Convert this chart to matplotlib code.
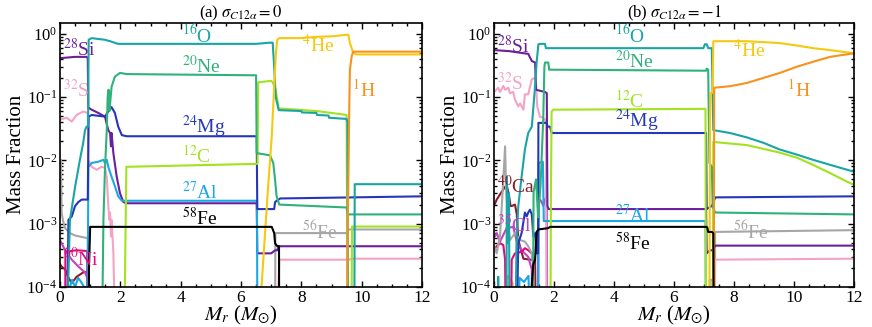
import matplotlib
matplotlib.use("Agg")
import matplotlib.pyplot as plt
from matplotlib.ticker import MultipleLocator, LogLocator, NullFormatter

plt.rcParams['font.family'] = ['Liberation Serif', 'DejaVu Serif']
plt.rcParams['mathtext.fontset'] = 'stix'

# colours per species
C_O16 = '#19a5a5'
C_NE20 = '#2eb27a'
C_C12 = '#a2e21f'
C_MG24 = '#2537b8'
C_AL27 = '#1ba8e6'
C_SI28 = '#6b1f9b'
C_S32 = '#f4a3c4'
C_HE4 = '#f5c90f'
C_H1 = '#f7921d'
C_FE58 = 'black'
C_FE56 = '#a6a6a6'
C_NI60 = '#e5077f'
C_CA40 = '#8c1c2c'
C_CL35 = '#c043c0'
C_AR36 = '#dcae7a'

LOW = 1e-6  # below the plotted range

# ---------------- panel (a): sigma = 0 ----------------
a_ca40_x = [0.0, 0.05, 0.17, 0.28, 0.39, 0.55, 0.77, 0.92, 0.94]
a_ca40_y = [2.3e-4, 2.1e-4, 1.9e-4, 1.4e-4, 1.15e-4, 1.45e-4, 1.7e-4, 1.75e-4, LOW]

a_cl35_x = [0.0, 0.17, 0.39, 0.61, 0.83, 0.93, 0.94]
a_cl35_y = [5.5e-4, 3.8e-4, 2.7e-4, 2.1e-4, 1.7e-4, 1.3e-4, LOW]

a_ni60_x = [0.16, 0.18, 0.55, 0.90, 0.92]
a_ni60_y = [LOW, 3.6e-4, 3.8e-4, 3.7e-4, LOW]

a_fe56_x = [0.0, 0.03, 0.055, 0.10, 0.17, 0.33, 0.50, 0.77, 0.92, 0.94, 7.12, 7.14, 7.25, 9.50, 9.55, 12.0]
a_fe56_y = [1.3e-3, 0.0102, 1.5e-3, 1.1e-3, 8.5e-4, 7.1e-4, 6.5e-4, 6.1e-4, 5.9e-4, LOW, LOW, 7.1e-4, 7.1e-4, 7.1e-4, 8.1e-4, 8.1e-4]

a_s32_x = [0.0, 0.22, 0.39, 0.55, 0.77, 0.92, 0.94, 1.05, 1.22, 1.38, 1.49, 1.55, 1.60, 1.64, 1.66, 1.69,
           1.71, 1.77, 1.88, 7.10, 7.27, 9.60, 9.65, 12.0]
a_s32_y = [0.044, 0.047, 0.041, 0.052, 0.059, 0.056, 0.0102, 0.0079, 0.0071, 0.0079, 0.0076, 0.0055, 0.0019,
           0.00115, 0.0015, 0.00063, 0.00115, 0.00034, LOW, LOW, 2.7e-4, 2.7e-4, 2.8e-4, 2.8e-4]

a_si28_x = [0.0, 0.50, 0.88, 0.92, 0.94, 1.05, 1.27, 1.49, 1.60, 1.66, 1.69, 1.71, 1.73, 1.77, 1.88, 1.99,
            2.10, 2.21, 6.52, 6.54, 7.00, 7.13, 7.20, 7.25, 12.0]
a_si28_y = [0.41, 0.43, 0.43, 0.41, 0.068, 0.063, 0.056, 0.049, 0.030, 0.027, 0.0166, 0.027, 0.021, 0.0129,
            0.0055, 0.003, 0.0022, 0.0021, 0.0021, 3.4e-4, 3.4e-4, 3.8e-4, 3.8e-4, 4.4e-4, 4.4e-4]

a_al27_x = [0.28, 0.33, 0.40, 0.50, 0.60, 0.70, 0.80, 0.92, 0.94, 1.05, 1.27, 1.44, 1.49, 1.55, 1.60, 1.71,
            1.82, 1.93, 2.05, 2.21, 6.53, 6.55]
a_al27_y = [LOW, 1.0e-4, 1.3e-4, 1.0e-4, 1.4e-4, 1.2e-4, 1.0e-4, 1.0e-4, 0.0079, 0.0091, 0.0095, 0.0102,
            0.0091, 0.0102, 0.0079, 0.0055, 0.0039, 0.0027, 0.0023, 0.0023, 0.0023, LOW]

a_mg24_x = [0.20, 0.28, 0.39, 0.50, 0.61, 0.72, 0.92, 0.95, 1.05, 1.49, 1.60, 1.71, 1.82, 1.93, 2.05, 2.21,
            6.52, 6.54, 7.10, 7.13, 7.30, 12.0]
a_mg24_y = [LOW, 1.15e-3, 1.3e-3, 1.9e-3, 2.2e-3, 2.4e-3, 2.4e-3, 0.049, 0.052, 0.049, 0.059, 0.069, 0.056,
            0.034, 0.025, 0.024, 0.024, 0.0017, 0.0017, 0.0022, 0.0025, 0.0027]

a_c12_x = [2.12, 2.15, 2.20, 6.55, 6.57, 7.00, 7.05, 7.15, 7.25, 8.50, 9.00, 9.50, 9.55, 9.65, 9.68, 12.0]
a_c12_y = [LOW, 1e-4, 0.0079, 0.0088, 0.17, 0.18, 0.17, 0.13, 0.066, 0.060, 0.056, 0.052, LOW, LOW, 9e-4, 9e-4]

a_ne20_x = [1.36, 1.44, 1.49, 1.55, 1.58, 1.61, 1.64, 1.68, 1.71, 1.82, 1.99, 2.21, 6.50, 6.52, 6.96, 7.07,
            7.13, 7.18, 7.27, 9.50, 9.55, 12.0]
a_ne20_y = [LOW, 1.15e-3, 7.1e-3, 0.030, 0.10, 0.13, 0.06, 0.10, 0.145, 0.21, 0.24, 0.23, 0.22, 0.013,
            0.012, 0.0091, 0.0049, 0.0027, 0.0020, 0.0018, 0.0014, 0.0014]

a_o16_x = [0.15, 0.33, 0.50, 0.66, 0.77, 0.83, 0.88, 0.93, 0.95, 1.05, 1.49, 1.66, 1.92, 2.21, 6.50, 6.95,
           7.05, 7.10, 7.15, 7.25, 8.00, 8.02, 8.50, 8.52, 8.90, 8.92, 9.50, 9.53, 9.55, 9.75, 9.77, 12.0]
a_o16_y = [LOW, 1.15e-3, 3.8e-3, 0.0102, 0.019, 0.030, 0.034, 0.034, 0.80, 0.85, 0.80, 0.76, 0.69, 0.69,
           0.69, 0.72, 0.72, 0.30, 0.10, 0.062, 0.060, 0.057, 0.056, 0.052, 0.051, 0.047, 0.045, 0.040,
           LOW, LOW, 0.0042, 0.0042]

a_he4_x = [6.65, 6.68, 6.79, 6.90, 7.02, 7.10, 7.13, 7.16, 7.20, 7.27, 7.96, 8.51, 9.06, 9.50, 9.56, 9.61,
           9.72, 9.83, 12.0]
a_he4_y = [LOW, 1e-4, 6.3e-4, 3.9e-3, 0.024, 0.148, 0.27, 0.50, 0.80, 0.85, 0.85, 0.89, 0.91, 0.96, 0.96,
           0.71, 0.50, 0.47, 0.47]

a_h1_x = [9.49, 9.54, 9.57, 9.59, 9.61, 9.67, 9.72, 12.0]
a_h1_y = [LOW, 1.15e-3, 0.0129, 0.079, 0.27, 0.44, 0.52, 0.52]

a_fe58_x = [0.95, 0.96, 1.00, 7.02, 7.10, 7.13, 7.18, 7.24, 7.26, 7.27]
a_fe58_y = [LOW, 1.9e-4, 8.9e-4, 8.9e-4, 7.1e-4, 4.9e-4, 4.5e-4, 4.4e-4, 4.4e-4, LOW]

# ---------------- panel (b): sigma = -1 ----------------
b_ar36_x = [0.40, 0.45, 0.55, 0.62, 0.68]
b_ar36_y = [LOW, 1.5e-4, 1.3e-4, 1.15e-4, LOW]

b_ca40_x = [0.0, 0.09, 0.26, 0.42, 0.50, 0.55, 0.59, 0.70, 0.76, 0.81, 0.98, 1.20, 1.37, 1.42]
b_ca40_y = [0.0019, 0.0024, 0.0032, 0.0041, 0.0028, 0.0019, 0.0019, 0.0020, 0.0014, 5.5e-4, 2.8e-4,
            2.7e-4, 2.7e-4, LOW]

b_cl35_x = [0.0, 0.09, 0.20, 0.42, 0.64, 0.76, 0.92, 1.14, 1.26, 1.30, 1.45, 1.48, 1.53, 1.59, 1.64, 1.70,
            1.76, 1.78]
b_cl35_y = [6e-4, 7.1e-4, 5.2e-4, 8.5e-4, 8.9e-4, 5.2e-4, 3.8e-4, 3.0e-4, 1.9e-4, LOW, LOW, 0.0024, 0.0024,
            0.0022, 0.0019, 0.0024, 0.0027, LOW]

b_ni60_x = [0.0, 0.09, 0.20, 0.31, 0.37, 0.42, 0.53, 0.59, 0.70, 0.92, 1.03, 1.14, 1.26, 1.31, 1.35]
b_ni60_y = [4.0e-4, 4.4e-4, 4.9e-4, 4.6e-4, 2.7e-4, LOW, LOW, 2.7e-4, 3.4e-4, 3.6e-4, 4.1e-4, 3.8e-4,
            3.4e-4, 2.3e-4, LOW]

b_fe56_x = [0.0, 0.09, 0.20, 0.31, 0.37, 0.40, 0.48, 0.53, 0.70, 0.87, 1.03, 1.14, 1.26, 1.31, 1.35, 7.17,
            7.19, 7.28, 7.30, 7.36, 7.37, 12.0]
b_fe56_y = [4.4e-4, 3.4e-4, 6.3e-4, 0.0049, 0.0166, 0.0039, 8.9e-4, 5.5e-4, 7.1e-4, 5.5e-4, 5.2e-4,
            4.4e-4, 3.4e-4, 2.1e-4, LOW, LOW, 1.3e-4, 1.3e-4, LOW, LOW, 7.4e-4, 7.9e-4]

b_s32_x = [0.0, 0.14, 0.20, 0.31, 0.37, 0.48, 0.53, 0.64, 0.70, 0.81, 0.87, 0.98, 1.03, 1.14, 1.26, 1.37,
           1.40, 1.44, 1.53, 1.64, 1.70, 1.73, 1.76, 7.33, 7.37, 12.0]
b_s32_y = [0.12, 0.14, 0.12, 0.15, 0.13, 0.14, 0.115, 0.12, 0.091, 0.071, 0.079, 0.063, 0.11, 0.11, 0.19,
           0.20, 0.17, 0.071, 0.049, 0.047, 0.044, 0.039, LOW, LOW, 2.7e-4, 2.8e-4]

b_si28_x = [0.0, 0.50, 1.00, 1.14, 1.26, 1.37, 1.40, 1.70, 1.76, 1.78, 1.82, 7.07, 7.09, 7.20, 7.29, 7.37,
            12.0]
b_si28_y = [0.55, 0.53, 0.49, 0.48, 0.37, 0.35, 0.13, 0.12, 0.115, 0.0019, 0.0017, 0.0017, 3.4e-4, 3.8e-4,
            3.8e-4, 4.5e-4, 4.5e-4]

b_al27_x = [0.78, 0.85, 1.00, 1.15, 1.26, 1.47, 1.49, 1.63, 1.66, 1.85, 7.05, 7.07]
b_al27_y = [LOW, 1.4e-4, 1.2e-4, 1.5e-4, LOW, LOW, 0.0091, 0.0095, 0.0011, 0.0011, 0.0011, LOW]

b_mg24_x = [0.70, 0.81, 0.92, 1.03, 1.09, 1.14, 1.20, 1.26, 1.31, 1.37, 1.42, 1.47, 1.48, 1.76, 1.78, 1.87,
            1.92, 7.07, 7.09, 7.26, 7.31, 7.37, 12.0]
b_mg24_y = [LOW, 4.9e-4, 7.1e-4, 1.5e-3, 1.3e-3, 1.5e-3, 1.66e-3, 1.4e-3, 6.3e-4, 7.1e-4, 3.4e-4, 3.4e-4,
            0.039, 0.039, 0.034, 0.034, 0.027, 0.027, 0.0017, 0.0019, 0.0021, 0.0026, 0.0027]

b_c12_x = [1.87, 1.90, 1.92, 1.98, 7.05, 7.07, 7.29, 7.31, 8.43, 9.53, 10.1, 10.63, 11.2, 11.77, 12.0]
b_c12_y = [LOW, 0.0039, 0.059, 0.063, 0.065, LOW, LOW, 0.0195, 0.0174, 0.0132, 0.011, 0.0085, 0.0063,
           0.0046, 0.0041]

b_ne20_x = [1.28, 1.32, 1.40, 1.47, 1.55, 1.64, 1.68, 1.70, 1.81, 1.84, 7.07, 7.09, 7.14, 7.18, 7.26, 7.29,
            7.37, 12.0]
b_ne20_y = [LOW, 0.0032, 0.005, 0.00126, 0.0039, 0.044, 0.30, 0.35, 0.35, 0.27, 0.26, 0.28, 0.27, 0.0091,
            0.0079, 0.0019, 0.0015, 0.0014]

b_o16_x = [0.12, 0.14, 0.16, 0.40, 0.43, 0.46, 0.50, 0.53, 0.68, 0.75, 0.81, 0.92, 1.03, 1.14, 1.26, 1.37,
           1.42, 1.48, 1.53, 1.70, 1.73, 6.98, 7.03, 7.09, 7.14, 7.26, 7.31, 7.87, 8.43, 8.97, 9.53, 10.1,
           10.63, 11.2, 11.77, 12.0]
b_o16_y = [LOW, 1.45e-4, LOW, LOW, 0.0055, 5e-4, 0.003, LOW, LOW, 5e-4, 0.0019, 0.0055, 0.0148, 0.027,
           0.034, 0.15, 0.35, 0.68, 0.69, 0.69, 0.59, 0.59, 0.68, 0.68, 0.59, 0.59, 0.030, 0.027, 0.023,
           0.019, 0.0148, 0.0123, 0.0102, 0.0085, 0.0071, 0.0066]

b_he4_x = [7.17, 7.20, 7.22, 7.29, 7.31, 8.42, 9.53, 10.09, 10.64, 11.2, 12.0]
b_he4_y = [LOW, 0.044, 0.115, 0.117, 0.76, 0.76, 0.71, 0.65, 0.59, 0.55, 0.49]

b_h1_x = [7.32, 7.34, 7.87, 8.42, 8.98, 9.53, 10.09, 10.64, 11.2, 12.0]
b_h1_y = [LOW, 0.14, 0.148, 0.166, 0.20, 0.24, 0.30, 0.36, 0.43, 0.49]

b_fe58_x = [1.24, 1.26, 1.31, 1.37, 1.42, 1.48, 1.81, 1.87, 7.07, 7.11, 7.14, 7.26, 7.31, 7.34]
b_fe58_y = [LOW, 1.1e-4, 2.3e-4, 2.7e-4, 7.4e-4, 8.1e-4, 8.5e-4, 8.9e-4, 8.9e-4, 8.7e-4, 7.4e-4, 7.4e-4,
            7.1e-4, LOW]

# species labels: text, x, y, colour
a_labels = [
    ('$^{28}$Si', 0.1, 0.44, C_SI28), ('$^{32}$S', 0.1, 0.1, C_S32),
    ('$^{16}$O', 4.04, 0.72, C_O16), ('$^{20}$Ne', 4.04, 0.235, C_NE20),
    ('$^{24}$Mg', 4.04, 0.027, C_MG24), ('$^{12}$C', 4.04, 0.0092, C_C12),
    ('$^{27}$Al', 4.04, 0.0024, C_AL27), ('$^{58}$Fe', 4.04, 0.00095, C_FE58),
    ('$^{4}$He', 8.02, 0.52, C_HE4), ('$^{1}$H', 9.68, 0.1, C_H1),
    ('$^{56}$Fe', 8.02, 0.00059, C_FE56), ('$^{60}$Ni', 0.1, 0.00022, C_NI60),
]
b_labels = [
    ('$^{28}$Si', 0.1, 0.5, C_SI28), ('$^{32}$S', 0.1, 0.13, C_S32),
    ('$^{16}$O', 4.03, 0.72, C_O16), ('$^{20}$Ne', 4.03, 0.29, C_NE20),
    ('$^{12}$C', 4.03, 0.067, C_C12), ('$^{24}$Mg', 4.03, 0.034, C_MG24),
    ('$^{4}$He', 7.97, 0.42, C_HE4), ('$^{1}$H', 9.77, 0.1, C_H1),
    ('$^{40}$Ca', 0.1, 0.003, C_CA40), ('$^{35}$Cl', 0.1, 0.00074, C_CL35),
    ('$^{27}$Al', 4.03, 0.00107, C_AL27), ('$^{58}$Fe', 4.03, 0.00038, C_FE58),
    ('$^{56}$Fe', 7.97, 0.00059, C_FE56),
]

a_curves = [
    (a_ca40_x, a_ca40_y, C_CA40), (a_cl35_x, a_cl35_y, C_CL35), (a_ni60_x, a_ni60_y, C_NI60),
    (a_fe56_x, a_fe56_y, C_FE56), (a_s32_x, a_s32_y, C_S32), (a_si28_x, a_si28_y, C_SI28),
    (a_al27_x, a_al27_y, C_AL27), (a_mg24_x, a_mg24_y, C_MG24), (a_c12_x, a_c12_y, C_C12),
    (a_ne20_x, a_ne20_y, C_NE20), (a_o16_x, a_o16_y, C_O16), (a_he4_x, a_he4_y, C_HE4),
    (a_h1_x, a_h1_y, C_H1), (a_fe58_x, a_fe58_y, C_FE58),
]
b_curves = [
    (b_ar36_x, b_ar36_y, C_AR36), (b_ca40_x, b_ca40_y, C_CA40), (b_cl35_x, b_cl35_y, C_CL35),
    (b_ni60_x, b_ni60_y, C_NI60), (b_fe56_x, b_fe56_y, C_FE56), (b_s32_x, b_s32_y, C_S32),
    (b_si28_x, b_si28_y, C_SI28), (b_al27_x, b_al27_y, C_AL27), (b_mg24_x, b_mg24_y, C_MG24),
    (b_c12_x, b_c12_y, C_C12), (b_ne20_x, b_ne20_y, C_NE20), (b_o16_x, b_o16_y, C_O16),
    (b_he4_x, b_he4_y, C_HE4), (b_h1_x, b_h1_y, C_H1), (b_fe58_x, b_fe58_y, C_FE58),
]


def draw_panel(ax, curves, labels, title):
    for xs, ys, col in curves:
        ax.plot(xs, ys, color=col, lw=1.5)
    for txt, x, y, col in labels:
        ax.text(x, y, txt, color=col, fontsize=14, ha='left', va='baseline')
    ax.set_yscale('log')
    ax.set_xlim(0, 12)
    ax.set_ylim(1e-4, 1.5)
    ax.xaxis.set_major_locator(MultipleLocator(2))
    ax.xaxis.set_minor_locator(MultipleLocator(0.5))
    ax.yaxis.set_major_locator(LogLocator(base=10, numticks=10))
    ax.yaxis.set_minor_locator(LogLocator(base=10, subs=range(2, 10), numticks=10))
    ax.yaxis.set_minor_formatter(NullFormatter())
    ax.tick_params(which='both', direction='in', top=True, right=True, labelsize=12.5, width=1.0, pad=2)
    ax.tick_params(axis='y', labelsize=12)
    ax.tick_params(which='major', length=4)
    ax.tick_params(which='minor', length=2.2)
    for sp in ax.spines.values():
        sp.set_linewidth(1.2)
    ax.set_xlabel(r'$M_r$ ($M_{\odot}$)', fontsize=15, labelpad=-1)
    ax.set_ylabel('Mass Fraction', fontsize=15)
    ax.yaxis.set_label_coords(-0.095, 0.5)
    ax.set_title(title, fontsize=12, pad=3)


fig = plt.figure(figsize=(8.72, 3.27), dpi=100)
ax_a = fig.add_axes([60 / 872, 1 - 287 / 327, 362 / 872, 264.5 / 327])
ax_b = fig.add_axes([494 / 872, 1 - 287 / 327, 360 / 872, 264.5 / 327])

draw_panel(ax_a, a_curves, a_labels, r'(a) $\sigma_{C12\alpha}=0$')
draw_panel(ax_b, b_curves, b_labels, r'(b) $\sigma_{C12\alpha}=-1$')

fig.savefig('out.png', dpi=100)
